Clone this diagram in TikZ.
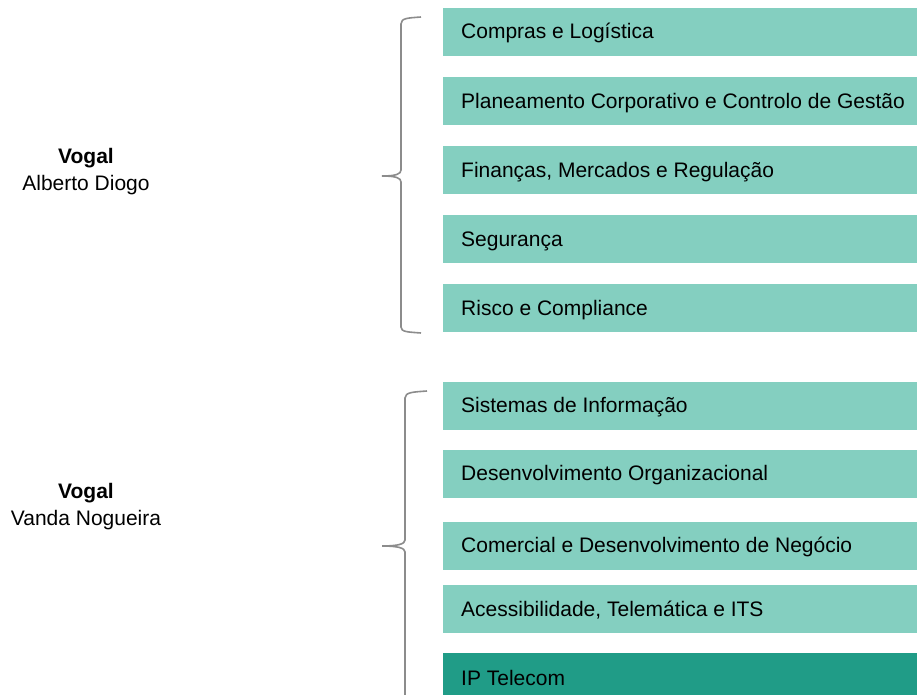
\documentclass[tikz,border=0pt]{standalone}
\usepackage{fontspec}
\setmainfont{Liberation Sans}
\definecolor{boxlight}{RGB}{132,207,192}
\definecolor{boxdark}{RGB}{32,156,135}
\definecolor{bracegray}{RGB}{140,140,140}
\tikzset{
  unitbox/.style={fill=boxlight, draw=none, minimum width=474pt, minimum height=48pt, inner sep=0pt, anchor=north west},
  darkbox/.style={unitbox, fill=boxdark},
  boxtext/.style={anchor=west, font=\fontsize{21}{25}\selectfont, inner sep=0pt},
  vogal/.style={align=center, font=\fontsize{21}{27}\selectfont, inner sep=0pt},
  bracepath/.style={draw=bracegray, line width=1.6pt}
}
\begin{document}
\begin{tikzpicture}[x=1pt,y=-1pt]
\useasboundingbox (0,0) rectangle (917,695);
% group 1
\node[unitbox] (b1) at (443,8) {};
\node[unitbox] (b2) at (443,77) {};
\node[unitbox] (b3) at (443,146) {};
\node[unitbox] (b4) at (443,215) {};
\node[unitbox] (b5) at (443,284) {};
\node[boxtext] (t1) at (461,33) {Compras e Logística};
\node[boxtext] (t2) at (461,103) {Planeamento Corporativo e Controlo de Gestão};
\node[boxtext] (t3) at (461,172) {Finanças, Mercados e Regulação};
\node[boxtext] (t4) at (461,241) {Segurança};
\node[boxtext] (t5) at (461,310) {Risco e Compliance};
% group 2
\node[unitbox] (b6) at (443,382) {};
\node[unitbox] (b7) at (443,450) {};
\node[unitbox] (b8) at (443,522) {};
\node[unitbox] (b9) at (443,585) {};
\node[darkbox] (b10) at (443,653) {};
\node[boxtext] (t6) at (461,407) {Sistemas de Informação};
\node[boxtext] (t7) at (461,475) {Desenvolvimento Organizacional};
\node[boxtext] (t8) at (461,547) {Comercial e Desenvolvimento de Negócio};
\node[boxtext] (t9) at (461,610) {Acessibilidade, Telemática e ITS};
\node[boxtext] (t10) at (461,678) {IP Telecom};
% labels
\node[vogal] (v1) at (86,172) {\textbf{Vogal}\\Alberto Diogo};
\node[vogal] (v2) at (86,507) {\textbf{Vogal}\\Vanda Nogueira};
% braces
\path[bracepath] (421,17) .. controls (408,18) and (401,18) .. (401,24)
  -- (401,170) .. controls (401,174) and (396,176) .. (382,176)
  .. controls (396,176) and (401,178) .. (401,182)
  -- (401,327) .. controls (401,332) and (408,332) .. (421,333);
\path[bracepath] (427,391) .. controls (414,392) and (405,392) .. (405,398)
  -- (405,540) .. controls (405,544) and (398,546) .. (382,546)
  .. controls (398,546) and (405,548) .. (405,552)
  -- (405,700);
\end{tikzpicture}
\end{document}
